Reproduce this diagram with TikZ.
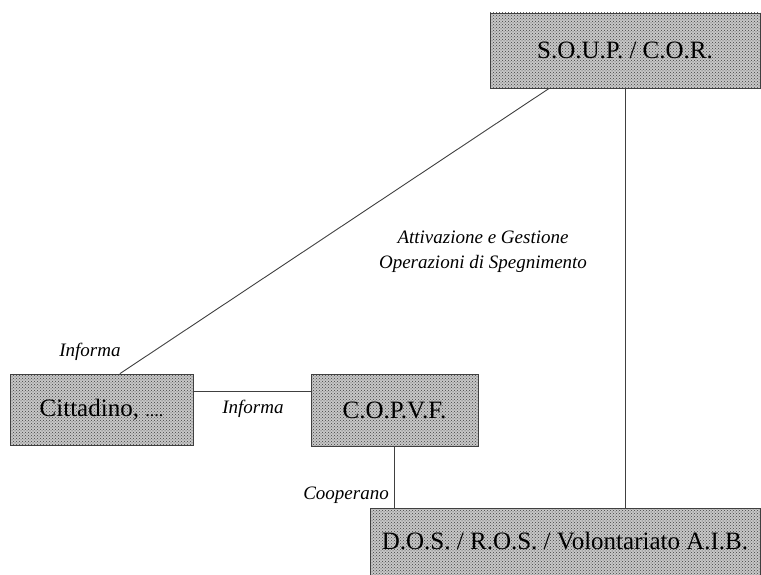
\documentclass[tikz,border=0pt]{standalone}
\usepackage{fontspec}
\setmainfont{Liberation Serif}
\usepackage{tikz}
\usetikzlibrary{positioning}
\usetikzlibrary{calc,patterns}
\tikzset{
  ente/.style={draw=black!75, line width=0.7pt, fill=black!22,
    postaction={pattern=crosshatch dots, pattern color=black!75},
    font=\fontsize{25}{27}\selectfont, inner sep=0pt},
  azione/.style={font=\fontsize{19}{25}\selectfont\itshape, inner sep=0pt},
  link/.style={draw=black!75, line width=0.9pt}
}

\begin{document}
\begin{tikzpicture}[x=1pt,y=-1pt]
\useasboundingbox (0,0) rectangle (761,575);

% ---------- Boxes ----------
\node[ente, minimum width=270pt, minimum height=75pt] (soup) at (625,50.5) {S.O.U.P. / C.O.R.};
\node[ente, minimum width=183pt, minimum height=71pt] (cit) at (101.5,409.5) {Cittadino, {\fontsize{18}{20}\selectfont ....}};
\node[ente, minimum width=167pt, minimum height=72pt] (cop) at (394.5,410) {C.O.P.V.F.};
\node[ente, minimum width=390pt, minimum height=67pt] (dos) at (565,541.5) {D.O.S. / R.O.S. / Volontariato A.I.B.};

% ---------- Links ----------
\draw[link] ($(soup.south west)!.22!(soup.south east)$) -- ($(cit.north west)!.6!(cit.north east)$);
\draw[link] (soup.south) -- (soup.south |- dos.north);
\draw[link] ($(cit.north east)!.25!(cit.south east)$) coordinate (c1) -- (c1 -| cop.west);
\draw[link] (cop.south) -- (cop.south |- dos.north);

% ---------- Labels ----------
\node[azione] (l1) at (90,352) {Informa};
\node[azione] (l2) at (253,409) {Informa};
\node[azione, anchor=east] (l3) at (389,495) {Cooperano};
\node[azione, align=center] (l4) at (483,252) {Attivazione e Gestione\\Operazioni di Spegnimento};

\end{tikzpicture}
\end{document}
